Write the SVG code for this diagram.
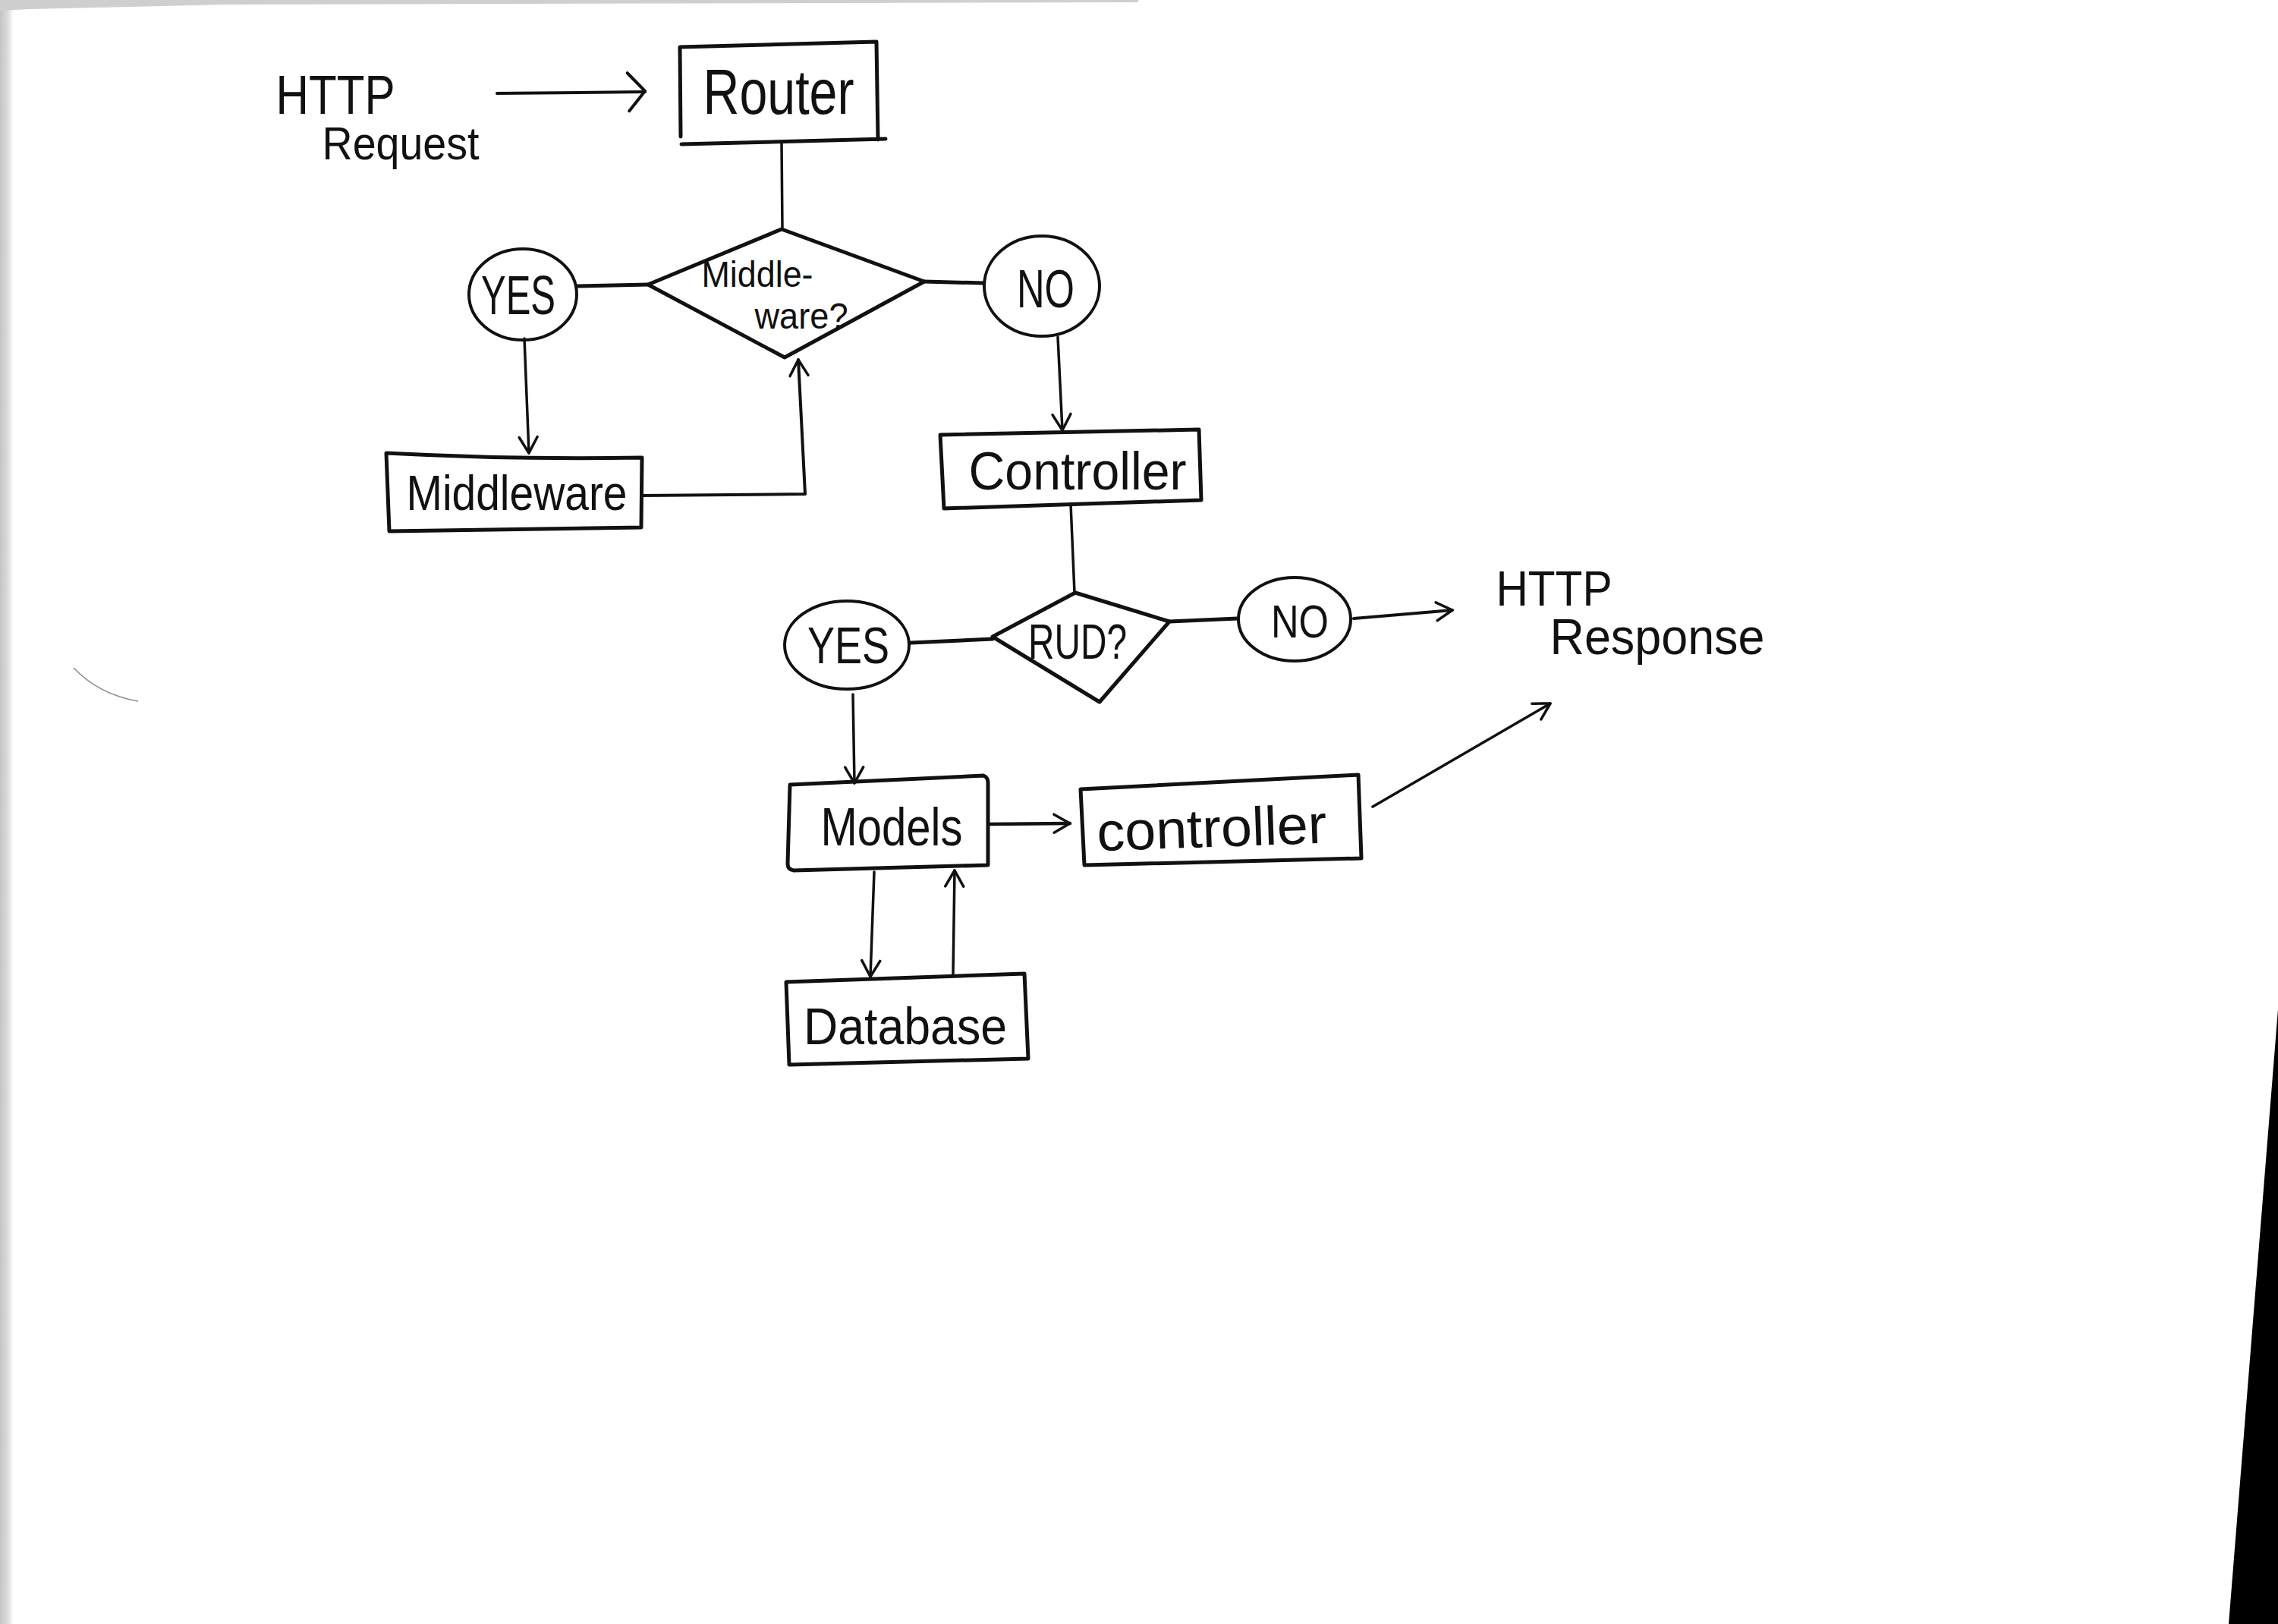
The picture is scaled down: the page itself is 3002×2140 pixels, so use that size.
<svg xmlns="http://www.w3.org/2000/svg" width="3002" height="2140" viewBox="0 0 3002 2140">
<style>
.box{fill:none;stroke:#111;stroke-width:5;stroke-linejoin:round;stroke-linecap:round}
.ln{fill:none;stroke:#111;stroke-width:3.5;stroke-linecap:round;stroke-linejoin:round}
.t{font-family:"Liberation Sans","DejaVu Sans",sans-serif;fill:#111;text-anchor:middle;font-weight:normal}
</style>
<defs>
<marker id="arr" viewBox="0 0 30 30" refX="27" refY="15" markerWidth="30" markerHeight="30" markerUnits="userSpaceOnUse" orient="auto">
<path d="M6,3 L27,15 L6,27" fill="none" stroke="#111" stroke-width="3.5" stroke-linecap="round" stroke-linejoin="round"/>
</marker>
<marker id="arrBig" viewBox="0 0 40 56" refX="37" refY="28" markerWidth="40" markerHeight="56" markerUnits="userSpaceOnUse" orient="auto">
<path d="M14,3 L37,27 L16,53" fill="none" stroke="#111" stroke-width="4" stroke-linecap="round" stroke-linejoin="round"/>
</marker>
<linearGradient id="edge" x1="0" y1="0" x2="1" y2="0">
<stop offset="0" stop-color="#c4c4c4"/>
<stop offset="0.6" stop-color="#dedede"/>
<stop offset="1" stop-color="#ffffff"/>
</linearGradient>
</defs>
<rect x="0" y="0" width="3002" height="2140" fill="#ffffff"/>
<rect x="0" y="0" width="18" height="2140" fill="url(#edge)"/>
<path d="M0,0 L1500,0 L1500,3 L300,6 L40,12 L0,14 Z" fill="#cfcfcf"/>
<polygon points="3002,1330 2937,2140 3002,2140" fill="#000"/>
<path d="M97,880 Q130,915 182,924" fill="none" stroke="#888" stroke-width="1.5"/>

<g id="connectors">
<path class="ln" d="M655,123 L850,121" marker-end="url(#arrBig)" style="stroke-width:4"/>
<path class="ln" d="M1030,188 L1031,303"/>
<path class="ln" d="M760,377 L854,375" style="stroke-width:5"/>
<path class="ln" d="M1218,371 L1296,373" style="stroke-width:5"/>
<path class="ln" d="M691,446 L697,597" marker-end="url(#arr)"/>
<path class="ln" d="M846,653 L1061,651 L1052,474" marker-end="url(#arr)" style="stroke-width:4"/>
<path class="ln" d="M1394,444 L1400,567" marker-end="url(#arr)"/>
<path class="ln" d="M1411,664 L1416,781"/>
<path class="ln" d="M1200,847 L1308,842" style="stroke-width:5"/>
<path class="ln" d="M1541,819 L1631,815" style="stroke-width:5"/>
<path class="ln" d="M1784,815 L1914,804" marker-end="url(#arr)" style="stroke-width:4"/>
<path class="ln" d="M1124,915 L1126,1032" marker-end="url(#arr)"/>
<path class="ln" d="M1302,1086 L1410,1085" marker-end="url(#arr)" style="stroke-width:4.5"/>
<path class="ln" d="M1152,1149 L1147,1287" marker-end="url(#arr)"/>
<path class="ln" d="M1256,1283 L1258,1147" marker-end="url(#arr)"/>
<path class="ln" d="M1809,1063 L2043,927" marker-end="url(#arr)"/>
</g>

<g id="http-request">
<text class="t" font-size="72"><tspan x="442" y="150" textLength="157" lengthAdjust="spacingAndGlyphs">HTTP</tspan><tspan x="528" y="210" font-size="62" textLength="207" lengthAdjust="spacingAndGlyphs">Request</tspan></text>
</g>

<g id="router">
<path class="box" d="M896,62 L1155,55 L1157,184 M898,190 L1167,183 M896,62 L897,180"/>
<text class="t" x="1026" y="150" font-size="84" textLength="199" lengthAdjust="spacingAndGlyphs">Router</text>
</g>

<g id="middleware-decision">
<path class="box" d="M854,375 L1030,302 L1218,371 L1034,471 Z"/>
<text class="t" font-size="48"><tspan x="998" y="378" textLength="147" lengthAdjust="spacingAndGlyphs">Middle-</tspan><tspan x="1056" y="433" textLength="123" lengthAdjust="spacingAndGlyphs">ware?</tspan></text>
</g>

<g id="yes-1">
<ellipse class="box" cx="689" cy="388" rx="71" ry="60" style="stroke-width:4"/>
<text class="t" x="683" y="414" font-size="72" textLength="98" lengthAdjust="spacingAndGlyphs">YES</text>
</g>

<g id="no-1">
<ellipse class="box" cx="1373" cy="377" rx="76" ry="66" style="stroke-width:4"/>
<text class="t" x="1378" y="405" font-size="70" textLength="76" lengthAdjust="spacingAndGlyphs">NO</text>
</g>

<g id="middleware">
<path class="box" d="M509,597 Q680,606 846,603 L845,695 L513,700 Z"/>
<text class="t" x="681" y="672" font-size="64" textLength="291" lengthAdjust="spacingAndGlyphs">Middleware</text>
</g>

<g id="controller-1">
<path class="box" d="M1239,573 L1580,566 L1583,659 L1244,670 Z"/>
<text class="t" x="1420" y="645" font-size="70" textLength="287" lengthAdjust="spacingAndGlyphs">Controller</text>
</g>

<g id="rud-decision">
<path class="box" d="M1308,839 L1417,781 L1541,819 L1449,925 Z"/>
<text class="t" x="1420" y="868" font-size="64" textLength="130" lengthAdjust="spacingAndGlyphs">RUD?</text>
</g>

<g id="yes-2">
<ellipse class="box" cx="1116" cy="850" rx="82" ry="58" style="stroke-width:4"/>
<text class="t" x="1118" y="874" font-size="68" textLength="108" lengthAdjust="spacingAndGlyphs">YES</text>
</g>

<g id="no-2">
<ellipse class="box" cx="1706" cy="816" rx="74" ry="55" style="stroke-width:4"/>
<text class="t" x="1713" y="840" font-size="62" textLength="76" lengthAdjust="spacingAndGlyphs">NO</text>
</g>

<g id="http-response">
<text class="t" font-size="64"><tspan x="2048" y="798" textLength="153" lengthAdjust="spacingAndGlyphs">HTTP</tspan><tspan x="2184" y="862" font-size="66" textLength="283" lengthAdjust="spacingAndGlyphs">Response</tspan></text>
</g>

<g id="models">
<path class="box" d="M1041,1034 L1296,1022 Q1302,1024 1302,1032 L1302,1140 L1046,1147 Q1038,1146 1038,1138 Z"/>
<text class="t" x="1175" y="1114" font-size="70" textLength="187" lengthAdjust="spacingAndGlyphs">Models</text>
</g>

<g id="controller-2">
<path class="box" d="M1424,1040 L1790,1021 L1794,1131 L1429,1140 Z"/>
<text class="t" x="1597" y="1116" font-size="72" textLength="303" lengthAdjust="spacingAndGlyphs" transform="rotate(-2 1597 1100)">controller</text>
</g>

<g id="database">
<path class="box" d="M1036,1294 L1350,1283 L1355,1395 L1040,1403 Z"/>
<text class="t" x="1193" y="1376" font-size="68" textLength="268" lengthAdjust="spacingAndGlyphs">Database</text>
</g>
</svg>
